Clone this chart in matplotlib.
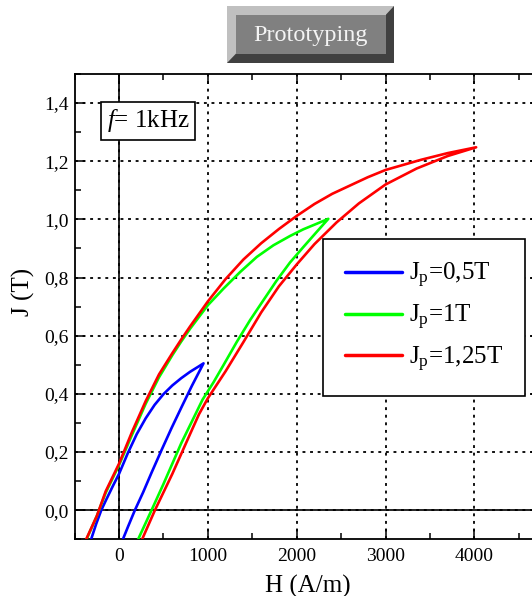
import matplotlib
matplotlib.use("Agg")
import matplotlib.pyplot as plt
from matplotlib.patches import Rectangle, Polygon
from matplotlib.ticker import MultipleLocator, FuncFormatter

plt.rcParams['font.family'] = ['Liberation Serif', 'DejaVu Serif']
plt.rcParams['mathtext.fontset'] = 'custom'
plt.rcParams['mathtext.rm'] = 'Liberation Serif'
plt.rcParams['mathtext.it'] = 'Liberation Serif:italic'

# ---- data (H in A/m, J in T) ----
blue_up_H = [20, 45, 102, 177, 272, 366, 479, 592, 706, 819, 951]
blue_up_J = [-0.118, -0.099, -0.056, -0.001, 0.062, 0.129, 0.207, 0.283, 0.356, 0.427, 0.505]
blue_dn_H = [951, 900, 800, 700, 600, 500, 400, 300, 200, 100, 0, -68, -143, -200, -257, -313, -335]
blue_dn_J = [0.505, 0.495, 0.476, 0.454, 0.429, 0.399, 0.362, 0.316, 0.262, 0.197, 0.125, 0.084, 0.037, 0.0, -0.047, -0.099, -0.118]

green_up_H = [195, 215, 366, 500, 700, 940, 1064, 1176, 1326, 1476, 1625, 1775, 1925, 2075, 2225, 2356]
green_up_J = [-0.115, -0.1, 0.0, 0.09, 0.23, 0.38, 0.44, 0.499, 0.579, 0.654, 0.722, 0.79, 0.852, 0.905, 0.957, 1.002]
green_dn_H = [2356, 2225, 2075, 1925, 1738, 1551, 1363, 1176, 1000, 800, 700, 600, 450, 300, 150, 0, -150, -250, -380]
green_dn_J = [1.002, 0.985, 0.966, 0.943, 0.911, 0.871, 0.819, 0.762, 0.705, 0.624, 0.58, 0.533, 0.457, 0.366, 0.262, 0.155, 0.06, -0.02, -0.11]

red_up_H = [245, 260, 404, 600, 800, 900, 1000, 1200, 1400, 1600, 1800, 2000, 2200, 2450, 2700, 3000, 3350, 3700, 4020]
red_up_J = [-0.11, -0.1, 0.0, 0.125, 0.262, 0.33, 0.385, 0.478, 0.578, 0.68, 0.77, 0.845, 0.915, 0.99, 1.055, 1.12, 1.175, 1.218, 1.248]
red_dn_H = [4020, 3700, 3400, 3000, 2800, 2400, 2200, 2000, 1800, 1600, 1400, 1200, 1000, 800, 700, 600, 450, 300, 150, 0, -150, -250, -370, -390]
red_dn_J = [1.248, 1.228, 1.205, 1.17, 1.145, 1.088, 1.053, 1.012, 0.967, 0.918, 0.862, 0.795, 0.718, 0.632, 0.587, 0.54, 0.467, 0.375, 0.272, 0.16, 0.065, -0.02, -0.10, -0.115]

labels = ['J$_\\mathrm{p}$=0,5T', 'J$_\\mathrm{p}$=1T', 'J$_\\mathrm{p}$=1,25T']
colors = ['#0000ff', '#00ff00', '#ff0000']

W, Hh = 532, 596
fig = plt.figure(figsize=(W / 100, Hh / 100), dpi=100)

def fx(px):
    return px / W

def fy(py):
    return 1 - py / Hh

L, R, T, B = 74.6, 541.0, 74.0, 539.3
ax = fig.add_axes([fx(L), fy(B), fx(R) - fx(L), fy(T) - fy(B)])

loops = [(blue_up_H, blue_up_J, blue_dn_H, blue_dn_J),
         (green_up_H, green_up_J, green_dn_H, green_dn_J),
         (red_up_H, red_up_J, red_dn_H, red_dn_J)]
handles = []
for (uh, uj, dh, dj), c, lab in zip(loops, colors, labels):
    h, = ax.plot(uh + dh, uj + dj, color=c, lw=1.9, label=lab,
                 solid_joinstyle='round', solid_capstyle='round', zorder=3)
    handles.append(h)

ax.set_xlim(-500, 4750)
ax.set_ylim(-0.1, 1.5)
ax.xaxis.set_major_locator(MultipleLocator(1000))
ax.xaxis.set_minor_locator(MultipleLocator(500))
ax.yaxis.set_major_locator(MultipleLocator(0.2))
ax.yaxis.set_minor_locator(MultipleLocator(0.1))
ax.yaxis.set_major_formatter(FuncFormatter(lambda v, p: f"{v:.1f}".replace('.', ',')))
ax.xaxis.set_major_formatter(FuncFormatter(lambda v, p: f"{v:.0f}"))
ax.tick_params(which='both', direction='in', top=True, right=True, width=1.1,
               labelsize=14, colors='black')
ax.tick_params(which='major', length=7)
ax.tick_params(which='minor', length=4.5)
ax.tick_params(axis='x', pad=6)
ax.tick_params(axis='y', pad=4)
for s in ax.spines.values():
    s.set_linewidth(1.3)

ax.set_axisbelow(True)
ax.grid(True, which='major', color='black', lw=1.3, linestyle=(0, (1.6, 2.6)))
ax.axhline(0, color='black', lw=1.2, zorder=1)
ax.axvline(0, color='black', lw=1.2, zorder=1)

ax.set_xlabel('H (A/m)', fontsize=18, va='center')
ax.xaxis.set_label_coords(0.5, (B - 586) / (B - T))
ax.set_ylabel('J (T)', fontsize=18, va='center')
ax.yaxis.set_label_coords((23 - L) / (R - L), (B - 291.5) / (B - T))

# frequency annotation box
ax.text((148 - L) / (R - L), (B - 121) / (B - T), '$f$= 1kHz', transform=ax.transAxes,
        ha='center', va='center', fontsize=18,
        bbox=dict(boxstyle='square,pad=0.22', fc='white', ec='black', lw=1.2), zorder=5)

leg = ax.legend(handles=handles, loc='upper left',
                bbox_to_anchor=(fx(322.7), fy(239.3)), bbox_transform=fig.transFigure,
                borderaxespad=0, fontsize=18, frameon=True, fancybox=False,
                edgecolor='black', framealpha=1, borderpad=0.88, handlelength=2.3,
                handletextpad=0.28, labelspacing=0.5)
leg.get_frame().set_linewidth(1.2)
for lh in leg.get_lines():
    lh.set_linewidth(2.5)
leg.set_zorder(6)

# "Prototyping" bevelled button
x0, y0, x1, y1 = 227, 6, 394, 63
ix0, iy0, ix1, iy1 = 236, 14.6, 386, 53.6
fig.patches.append(Rectangle((fx(x0), fy(y1)), fx(x1) - fx(x0), fy(y0) - fy(y1),
                             transform=fig.transFigure, fc='#c0c0c0', ec='none'))
fig.patches.append(Polygon([(fx(x1), fy(y0)), (fx(x1), fy(y1)), (fx(x0), fy(y1)),
                            (fx(ix0), fy(iy1)), (fx(ix1), fy(iy1)), (fx(ix1), fy(iy0))],
                           closed=True, transform=fig.transFigure, fc='#404040', ec='none'))
fig.patches.append(Rectangle((fx(ix0), fy(iy1)), fx(ix1) - fx(ix0), fy(iy0) - fy(iy1),
                             transform=fig.transFigure, fc='#808080', ec='none'))
fig.text(fx(311), fy(35), 'Prototyping', ha='center', va='center', fontsize=17.5,
         color='#f4f4f4')

fig.savefig('out.png', dpi=100)
